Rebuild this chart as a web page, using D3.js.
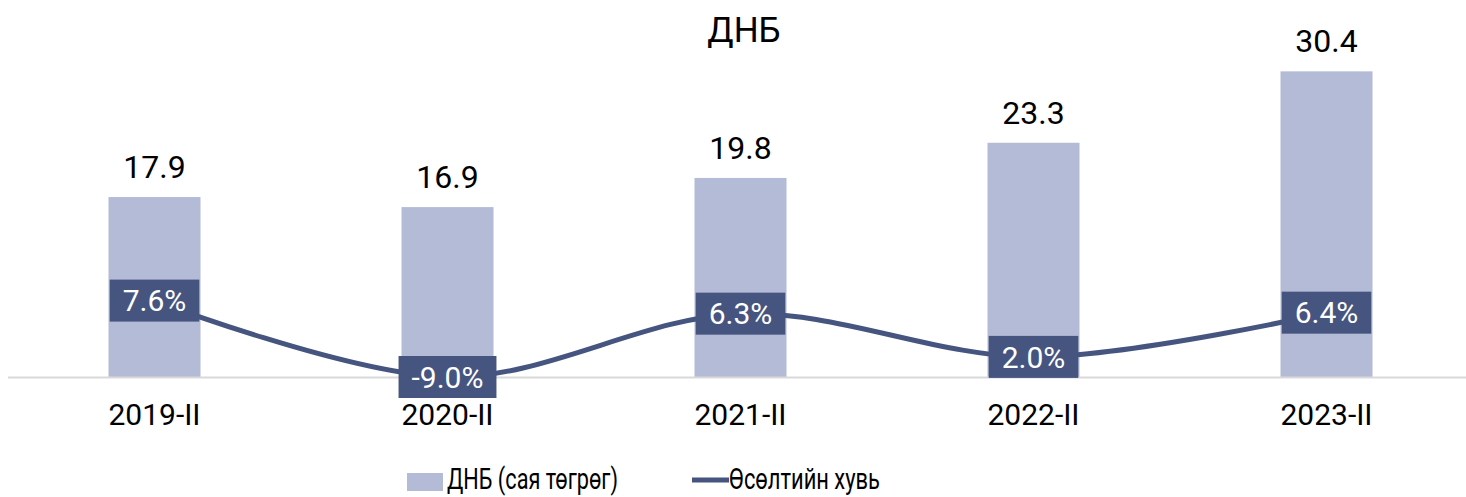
<!DOCTYPE html>
<html>
<head>
<meta charset="utf-8">
<script src="https://cdn.jsdelivr.net/npm/d3@7"></script>
<style>
  body { margin: 0; background: #fff; }
  text { font-family: Roboto, sans-serif; }
</style>
</head>
<body>
<div id="chart"></div>
<script>
// data
const periods = ["2019-II", "2020-II", "2021-II", "2022-II", "2023-II"];
const gdp = [17.9, 16.9, 19.8, 23.3, 30.4];
const growth = [7.6, -9.0, 6.3, 2.0, 6.4];
const legendLabels = ["ДНБ (сая төгрөг)", "Өсөлтийн хувь"];

var svgWidth = 1466;
var svgHeight = 497;

var barColor = "#b3bbd6";
var lineColor = "#46557f";

var svg = d3.select("#chart")
  .append("svg")
  .attr("width", svgWidth)
  .attr("height", svgHeight);

// scales
var xScale = d3.scaleBand()
  .domain(periods)
  .range([8, 1473])
  .paddingInner(0.686)
  .paddingOuter(0.343);

var yScale = d3.scaleLinear()
  .domain([0, 37.5])
  .range([377, 0]);

// growth line sits on same scale, values below zero clamp to the axis
var yLine = d3.scaleLinear()
  .domain([0, 37.5])
  .range([377, 0])
  .clamp(true);

// title
svg.append("text")
  .attr("x", 744)
  .attr("y", 42)
  .attr("text-anchor", "middle")
  .attr("font-family", "'Noto Sans', sans-serif")
  .attr("font-size", "35px")
  .attr("fill", "#000")
  .text("ДНБ");

// bars
svg.selectAll(".bar")
  .data(gdp)
  .enter()
  .append("rect")
  .attr("class", "bar")
  .attr("x", (d, i) => xScale(periods[i]))
  .attr("y", d => yScale(d))
  .attr("width", xScale.bandwidth())
  .attr("height", d => yScale(0) - yScale(d))
  .attr("fill", barColor);

// bar value labels
svg.selectAll(".barlabel")
  .data(gdp)
  .enter()
  .append("text")
  .attr("class", "barlabel")
  .attr("x", (d, i) => xScale(periods[i]) + xScale.bandwidth() / 2)
  .attr("y", d => yScale(d) - 19)
  .attr("text-anchor", "middle")
  .attr("font-family", (d, i) => i < 3 ? "'Noto Sans', sans-serif" : "Roboto, sans-serif")
  .attr("font-size", "32px")
  .attr("fill", "#000")
  .text(d => d.toFixed(1));

// x axis
var xAxis = d3.axisBottom(xScale).tickSize(0).tickPadding(27);
var axisG = svg.append("g")
  .attr("transform", `translate(0, ${yScale(0)})`)
  .call(xAxis);
axisG.select(".domain")
  .attr("d", "M8,0.5H1466")
  .attr("stroke", "#d9d9d9")
  .attr("stroke-width", 2);
axisG.selectAll(".tick text")
  .attr("font-family", "Roboto, sans-serif")
  .attr("font-size", "30px")
  .attr("fill", "#000");

// growth line
var line = d3.line()
  .x((d, i) => xScale(periods[i]) + xScale.bandwidth() / 2)
  .y(d => yLine(d))
  .curve(d3.curveCatmullRom.alpha(0));

svg.append("path")
  .datum(growth)
  .attr("d", line)
  .attr("fill", "none")
  .attr("stroke", lineColor)
  .attr("stroke-width", 5);

// growth labels in boxes
var lab = svg.selectAll(".glabel")
  .data(growth)
  .enter()
  .append("g")
  .attr("class", "glabel")
  .attr("transform", (d, i) => `translate(${xScale(periods[i]) + xScale.bandwidth() / 2}, ${yLine(d)})`);

lab.append("text")
  .attr("text-anchor", "middle")
  .attr("dy", "0.36em")
  .attr("font-family", "Roboto, sans-serif")
  .attr("font-size", "30px")
  .attr("fill", "#fff")
  .text(d => d.toFixed(1) + "%");

lab.each(function() {
  var g = d3.select(this);
  var w = g.select("text").node().getComputedTextLength() + 26;
  g.insert("rect", "text")
    .attr("x", -w / 2)
    .attr("y", -21)
    .attr("width", w)
    .attr("height", 42)
    .attr("fill", lineColor);
});

// legend
var legend = svg.append("g");
legend.append("rect")
  .attr("x", 407)
  .attr("y", 473)
  .attr("width", 36)
  .attr("height", 18)
  .attr("fill", barColor);
legend.append("text")
  .attr("x", 447)
  .attr("y", 489)
  .attr("font-family", "'Liberation Sans Narrow', 'Arial Narrow', Roboto, sans-serif")
  .attr("font-size", "29px")
  .attr("textLength", 171)
  .attr("lengthAdjust", "spacingAndGlyphs")
  .attr("fill", "#000")
  .text(legendLabels[0]);
legend.append("line")
  .attr("x1", 692)
  .attr("x2", 729)
  .attr("y1", 480)
  .attr("y2", 480)
  .attr("stroke", lineColor)
  .attr("stroke-width", 5);
legend.append("text")
  .attr("x", 729)
  .attr("y", 489)
  .attr("font-family", "'Liberation Sans Narrow', 'Arial Narrow', Roboto, sans-serif")
  .attr("font-size", "29px")
  .attr("textLength", 151)
  .attr("lengthAdjust", "spacingAndGlyphs")
  .attr("fill", "#000")
  .text(legendLabels[1]);
</script>
</body>
</html>
